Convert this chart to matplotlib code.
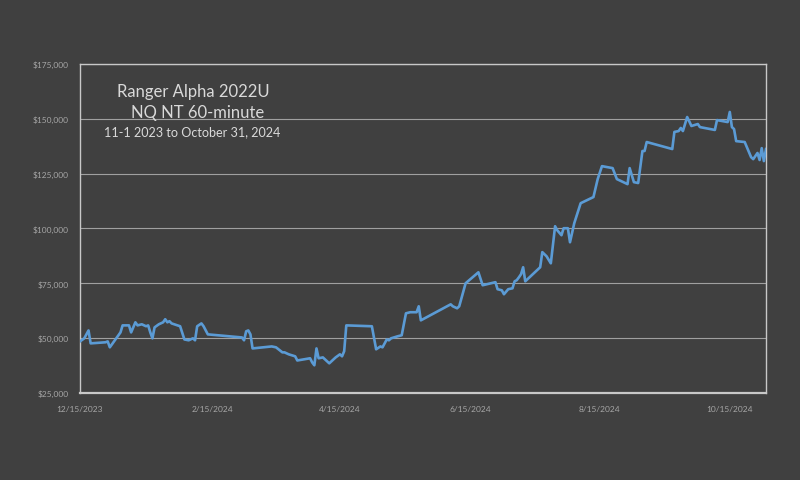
import matplotlib
matplotlib.use("Agg")
import matplotlib.pyplot as plt
import matplotlib.ticker as mticker
import pandas as pd

dates = [
    "2023-12-15", "2023-12-17", "2023-12-19", "2023-12-20", "2023-12-27", "2023-12-28",
    "2023-12-29", "2023-12-31", "2024-01-03", "2024-01-04", "2024-01-07", "2024-01-08",
    "2024-01-10", "2024-01-11", "2024-01-13", "2024-01-15", "2024-01-16", "2024-01-17",
    "2024-01-18", "2024-01-19", "2024-01-21", "2024-01-23", "2024-01-24", "2024-01-25",
    "2024-01-26", "2024-01-27", "2024-01-31", "2024-02-02", "2024-02-04", "2024-02-06",
    "2024-02-07", "2024-02-08", "2024-02-10", "2024-02-11", "2024-02-13", "2024-02-29",
    "2024-03-01", "2024-03-02", "2024-03-03", "2024-03-04", "2024-03-05", "2024-03-14",
    "2024-03-16", "2024-03-19", "2024-03-20", "2024-03-22", "2024-03-25", "2024-03-26",
    "2024-03-29", "2024-04-01", "2024-04-02", "2024-04-03", "2024-04-04", "2024-04-05",
    "2024-04-07", "2024-04-09", "2024-04-10", "2024-04-13", "2024-04-15", "2024-04-16",
    "2024-04-17", "2024-04-18", "2024-04-30", "2024-05-02", "2024-05-04", "2024-05-05",
    "2024-05-07", "2024-05-08", "2024-05-09", "2024-05-12", "2024-05-14", "2024-05-16",
    "2024-05-18", "2024-05-21", "2024-05-22", "2024-05-23", "2024-06-06", "2024-06-07",
    "2024-06-09", "2024-06-10", "2024-06-13", "2024-06-19", "2024-06-21", "2024-06-27",
    "2024-06-28", "2024-06-30", "2024-07-01", "2024-07-03", "2024-07-05", "2024-07-06",
    "2024-07-07", "2024-07-08", "2024-07-09", "2024-07-10", "2024-07-11", "2024-07-18",
    "2024-07-19", "2024-07-21", "2024-07-23", "2024-07-25", "2024-07-26", "2024-07-28",
    "2024-07-29", "2024-07-31", "2024-08-01", "2024-08-03", "2024-08-06", "2024-08-09",
    "2024-08-12", "2024-08-14", "2024-08-16", "2024-08-21", "2024-08-23", "2024-08-28",
    "2024-08-29", "2024-08-31", "2024-09-02", "2024-09-04", "2024-09-05", "2024-09-06",
    "2024-09-18", "2024-09-19", "2024-09-21", "2024-09-22", "2024-09-23", "2024-09-25",
    "2024-09-27", "2024-09-30", "2024-10-01", "2024-10-08", "2024-10-09", "2024-10-14",
    "2024-10-15", "2024-10-16", "2024-10-17", "2024-10-18", "2024-10-22", "2024-10-25",
    "2024-10-26", "2024-10-28", "2024-10-29", "2024-10-30", "2024-10-31", "2024-11-01",
]

equity_k = [
    48.5, 49.9, 53.5, 47.6, 48.1, 48.5,
    45.8, 48.5, 52.6, 55.8, 55.8, 52.6,
    57.2, 55.8, 56.3, 55.4, 55.8, 52.6,
    49.9, 54.9, 56.3, 57.2, 58.6, 57.2,
    57.7, 56.7, 55.4, 49.4, 49.0, 49.9,
    49.0, 55.4, 56.7, 55.4, 51.7, 50.3,
    49.0, 53.1, 53.5, 51.7, 45.3, 46.2,
    45.8, 43.5, 43.5, 42.6, 41.7, 39.8,
    40.3, 40.8, 38.9, 37.6, 45.3, 40.8,
    41.2, 39.4, 38.5, 41.2, 42.6, 41.7,
    44.0, 55.8, 55.4, 44.9, 46.2, 45.8,
    49.4, 49.0, 49.9, 50.8, 51.3, 61.3,
    61.8, 61.8, 64.5, 58.1, 65.4, 64.5,
    63.6, 64.5, 75.0, 80.0, 74.1, 75.5,
    72.3, 71.8, 70.0, 72.3, 72.7, 75.9,
    76.4, 77.7, 79.1, 82.3, 75.9, 82.3,
    89.2, 87.3, 84.1, 101.0, 99.2, 96.9,
    100.1, 100.1, 93.7, 102.4, 111.5, 112.9,
    114.3, 122.5, 128.4, 127.5, 122.5, 120.2,
    127.5, 121.1, 120.7, 135.3, 135.3, 139.4,
    136.2, 144.0, 144.4, 145.8, 144.4, 150.8,
    146.7, 147.6, 146.2, 144.9, 149.4, 148.5,
    153.1, 146.2, 145.3, 139.8, 139.4, 132.5,
    131.6, 134.4, 131.2, 136.6, 130.7, 136.2,
]

x_ticks = ["2023-12-15", "2024-02-15", "2024-04-15", "2024-06-15", "2024-08-15", "2024-10-15"]
y_ticks = [25000, 50000, 75000, 100000, 125000, 150000, 175000]
title_lines = ["Ranger Alpha 2022U", "NQ NT 60-minute"]
subtitle = "11-1 2023 to October 31, 2024"

BG = "#404040"
LINE = "#5b9bd5"
TXT = "#d9d9d9"
TICK = "#a6a6a6"
GRID = "#a0a0a0"

plt.rcParams['font.family'] = ['Lato', 'DejaVu Sans']

fig = plt.figure(figsize=(8.0, 4.81), dpi=100)
fig.patch.set_facecolor(BG)
ax = fig.add_axes([0.1, 0.181, 0.8575, 0.684])
ax.set_facecolor(BG)

x = pd.to_datetime(dates)
y = [v * 1000 for v in equity_k]
ax.plot(x, y, color=LINE, lw=1.9, solid_joinstyle='round', zorder=3)

ax.set_xlim(pd.Timestamp("2023-12-15"), pd.Timestamp("2024-11-01"))
ax.set_ylim(25000, 175000)
ax.set_yticks(y_ticks)
ax.yaxis.set_major_formatter(mticker.FuncFormatter(lambda v, p: f"${v:,.0f}"))
xt = pd.to_datetime(x_ticks)
ax.set_xticks(xt)
ax.set_xticklabels([f"{d.month}/{d.day}/{d.year}" for d in xt])

ax.tick_params(axis='both', length=0, colors=TICK, labelsize=6)
ax.tick_params(axis='y', pad=8)
ax.tick_params(axis='x', pad=9)
ax.grid(axis='y', color=GRID, lw=0.8, zorder=1)
for s in ax.spines.values():
    s.set_color("#c8c8c8")
    s.set_linewidth(1.0)
ax.spines['bottom'].set_linewidth(1.6)

ax.text(0.165, 0.918, title_lines[0], transform=ax.transAxes, ha='center', va='center',
        color=TXT, fontsize=12, zorder=4)
ax.text(0.172, 0.854, title_lines[1], transform=ax.transAxes, ha='center', va='center',
        color=TXT, fontsize=12, zorder=4)
ax.text(0.164, 0.796, subtitle, transform=ax.transAxes, ha='center', va='center',
        color=TXT, fontsize=9.1, zorder=4)

fig.savefig("out.png", dpi=100, facecolor=BG)
